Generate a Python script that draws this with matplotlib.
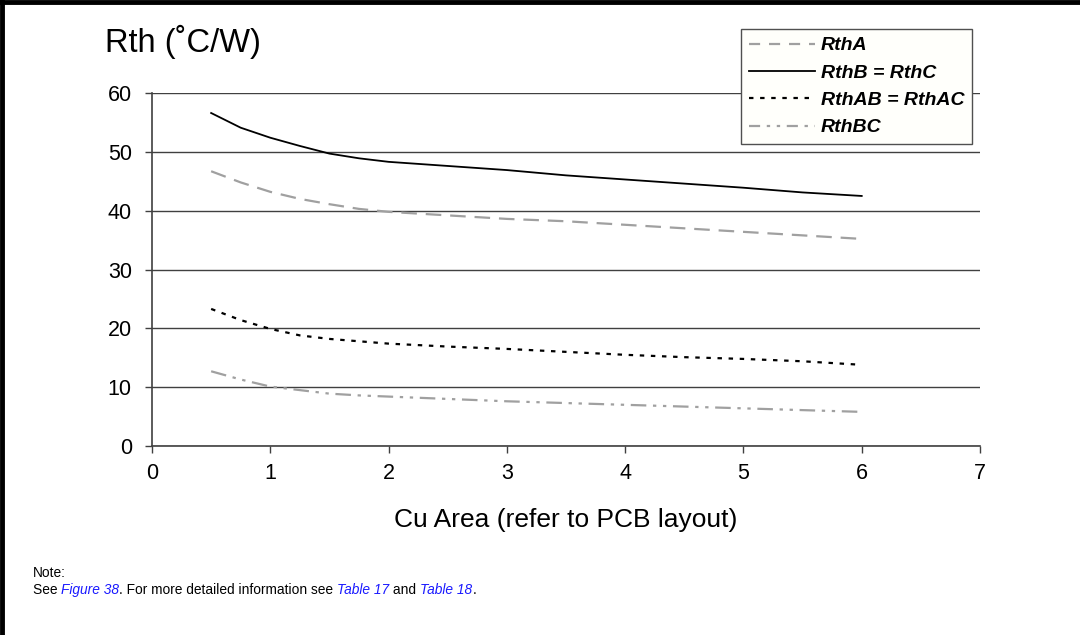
import matplotlib.pyplot as plt
from matplotlib.lines import Line2D

plt.rcParams['font.family'] = ['Liberation Sans', 'DejaVu Sans']

# Cu area (x) and thermal resistances
cu_area = [0.5, 0.75, 1.0, 1.25, 1.5, 1.75, 2.0, 2.5, 3.0, 3.5, 4.0, 4.5, 5.0, 5.5, 6.0]
rth_a = [46.7, 44.8, 43.2, 42.0, 41.1, 40.3, 39.8, 39.2, 38.6, 38.2, 37.6, 37.0, 36.4, 35.8, 35.2]
rth_b = [56.6, 54.1, 52.4, 51.0, 49.7, 48.9, 48.3, 47.6, 46.9, 46.0, 45.3, 44.6, 43.9, 43.1, 42.5]
rth_ab = [23.3, 21.4, 19.9, 18.8, 18.2, 17.8, 17.4, 16.9, 16.5, 16.0, 15.5, 15.1, 14.8, 14.4, 13.8]
rth_bc = [12.7, 11.3, 10.1, 9.5, 8.9, 8.6, 8.4, 8.0, 7.6, 7.3, 7.0, 6.7, 6.4, 6.1, 5.8]

labels = ['RthA', 'RthB = RthC', 'RthAB = RthAC', 'RthBC']

GRAY = '#a0a0a0'
DARK = '#404040'

fig = plt.figure(figsize=(10.8, 6.35), dpi=100)
ax = fig.add_axes([152/1080, 1 - 446/635, (980-152)/1080, (446-93)/635])

ax.plot(cu_area, rth_a, color=GRAY, lw=1.6, dashes=(7, 4), label=labels[0])
ax.plot(cu_area, rth_b, color='black', lw=1.3, label=labels[1])
ax.plot(cu_area, rth_ab, color='black', lw=1.6, dashes=(2, 3), label=labels[2])
ax.plot(cu_area, rth_bc, color=GRAY, lw=1.6, dashes=(7, 3, 1.5, 3, 1.5, 3), label=labels[3])

ax.set_xlim(0, 7)
ax.set_ylim(0, 60)
ax.set_xticks(range(0, 8))
ax.set_yticks(range(0, 61, 10))
ax.yaxis.grid(True, color=DARK, lw=1.0)
ax.set_axisbelow(True)
for s in ['top', 'right']:
    ax.spines[s].set_visible(False)
for s in ['left', 'bottom']:
    ax.spines[s].set_color(DARK)
    ax.spines[s].set_linewidth(1.2)
ax.tick_params(axis='both', colors=DARK, labelcolor='black', labelsize=15.5, length=5, width=1)
ax.tick_params(axis='y', pad=9.5)
ax.tick_params(axis='x', pad=7)

ax.set_xlabel('Cu Area (refer to PCB layout)', fontsize=19, labelpad=17.5)
fig.text(105/1080, 1 - 42/635, 'Rth (˚C/W)', fontsize=23.5, ha='left', va='center')

handles = [
    Line2D([], [], color=GRAY, lw=1.6, dashes=(5, 4)),
    Line2D([], [], color='black', lw=1.3),
    Line2D([], [], color='black', lw=1.6, dashes=(2, 3)),
    Line2D([], [], color=GRAY, lw=1.6, dashes=(5, 3, 1.5, 3, 1.5, 3)),
]
leg = fig.legend(handles, labels, loc='upper left',
                 bbox_to_anchor=(741/1080, 1 - 29/635),
                 prop={'weight': 'bold', 'style': 'italic', 'size': 14},
                 frameon=True, fancybox=False, handlelength=3.4,
                 handletextpad=0.3, labelspacing=0.5, borderpad=0.4,
                 borderaxespad=0)
leg.get_frame().set_edgecolor('#505050')
leg.get_frame().set_facecolor('#fffffb')
leg.get_frame().set_linewidth(1.0)
leg.get_frame().set_alpha(1)

# outer frame lines (top and left)
fig.add_artist(Line2D([0, 1], [1 - 2/635, 1 - 2/635], color='black', lw=3.5, transform=fig.transFigure))
fig.add_artist(Line2D([2/1080, 2/1080], [0, 1], color='black', lw=3.5, transform=fig.transFigure))

# note text
fig.text(33/1080, 1 - 573/635, 'Note:', fontsize=9.9, va='center')
pieces = [('See ', 'black', 'normal'), ('Figure 38', '#1a1aff', 'italic'),
          ('. For more detailed information see ', 'black', 'normal'),
          ('Table 17', '#1a1aff', 'italic'), (' and ', 'black', 'normal'),
          ('Table 18', '#1a1aff', 'italic'), ('.', 'black', 'normal')]
fig.canvas.draw()
r = fig.canvas.get_renderer()
x = 33
for txt, col, sty in pieces:
    t = fig.text(x/1080, 1 - 590/635, txt, fontsize=9.9, color=col, style=sty, va='center')
    bb = t.get_window_extent(renderer=r)
    x = bb.x1

fig.savefig('out.png', dpi=100)
